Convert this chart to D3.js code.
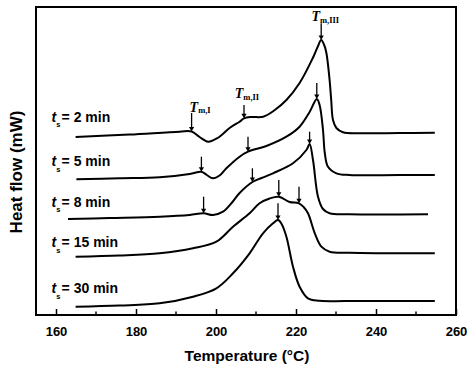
<!DOCTYPE html>
<html><head><meta charset="utf-8">
<script src="https://cdn.jsdelivr.net/npm/d3@7"></script>
<style>
html,body{margin:0;padding:0;background:#fff;}
</style></head>
<body><svg id="c" width="474" height="371" style="font-family:Arial,'Liberation Sans',sans-serif"></svg>
<script>
// ---- data ----
const seriesNames = ["2 min","5 min","8 min","15 min","30 min"];
const s2min = [[164.9,17.8],[178.4,18.05],[190.9,18.33],[193.9,18.35],[195.9,17.8],[198.0,17.33],[200.4,17.7],[203.4,18.7],[205.9,19.33],[207.0,19.67],[208.9,19.8],[211.8,19.83],[214.7,20.5],[217.6,21.5],[220.9,23.2],[224.2,25.7],[225.4,26.8],[226.3,27.5],[227.05,27.0],[227.6,26.2],[228.4,23.5],[228.8,21.5],[229.25,19.5],[230.1,18.7],[231.75,18.27],[235.9,18.17],[245.9,18.2],[254.7,18.23]];
const s5min = [[165.1,13.57],[175.9,13.67],[185.9,13.77],[193.4,14.1],[196.35,14.33],[197.7,14.0],[199.25,13.67],[200.9,13.95],[202.6,14.67],[205.9,15.83],[208.0,16.33],[212.6,16.9],[217.6,17.83],[220.9,18.83],[223.4,20.3],[225.2,21.6],[225.9,21.0],[226.75,18.5],[227.2,16.2],[228.0,14.83],[230.1,14.17],[233.4,14.0],[245.9,14.0],[254.7,14.0]];
const s8min = [[163.0,9.6],[173.4,9.7],[185.9,9.83],[193.4,10.0],[196.9,10.17],[199.25,10.0],[201.75,10.33],[203.9,11.2],[205.9,12.2],[209.1,13.3],[211.4,13.7],[214.25,14.17],[219.25,15.17],[222.6,16.5],[223.4,17.1],[224.25,15.5],[225.5,11.83],[226.75,10.6],[228.4,10.17],[233.4,10.07],[253.0,10.07]];
const s15min = [[164.9,5.83],[175.9,5.95],[185.9,6.17],[194.25,6.67],[200.1,7.33],[204.25,8.83],[208.4,10.17],[210.9,11.17],[213.4,11.65],[215.7,11.83],[218.4,11.3],[220.75,11.17],[221.9,10.8],[223.0,10.17],[224.7,8.17],[226.35,6.83],[228.4,6.33],[233.4,6.22],[254.7,6.17]];
const s30min = [[164.9,0.83],[175.9,0.95],[185.9,1.17],[194.25,1.83],[200.1,2.67],[204.25,4.17],[208.4,6.17],[211.75,8.17],[214.25,9.17],[215.5,9.5],[216.4,9.1],[217.6,7.83],[219.25,4.83],[220.9,2.83],[223.0,1.67],[225.9,1.43],[235.9,1.4],[254.7,1.4]];
const seriesData = [s2min,s5min,s8min,s15min,s30min];
const labelValues = [19.33,14.9,10.83,6.8,2.2];   // heat-flow level of each t_s label
const labelTemp = 158.9;
// arrows: [temperature, tip value, tail value]
const arrows = [[193.9,18.35,20.2],[207.0,19.67,21.0],[226.3,27.5,29.17],
  [196.35,14.33,15.83],[208.0,16.33,17.83],[225.2,21.6,23.2],
  [196.9,10.17,11.83],[209.1,13.3,14.67],[223.4,17.1,18.33],
  [215.7,11.83,13.5],[220.75,11.17,12.83],
  [215.5,9.5,11.17]];
// peak labels: [temperature, value, subscript]
const peakLabels = [[193.4,20.33,"m,I"],[204.7,21.67,"m,II"],[223.85,29.4,"m,III"]];
const xTicks = [160,180,200,220,240,260];
const xMinor = [170,190,210,230,250];

// ---- drawing ----
const svg = d3.select("#c");
const x = d3.scaleLinear().domain([155,260]).range([36,456]);
const y = d3.scaleLinear().domain([0,30.8]).range([315,7]);

const line = d3.line().x(d=>x(d[0])).y(d=>y(d[1])).curve(d3.curveCatmullRom.alpha(0.5));
svg.append("g").selectAll("path").data(seriesData).join("path")
  .attr("d",line).attr("fill","none").attr("stroke","#000").attr("stroke-width",2)
  .attr("stroke-linejoin","round");

// frame
svg.append("rect").attr("x",x(155)).attr("y",y(30.8)).attr("width",x(260)-x(155)).attr("height",y(0)-y(30.8))
  .attr("fill","none").attr("stroke","#000").attr("stroke-width",2);

// bottom axis, inward ticks
const xa = svg.append("g").attr("transform",`translate(0,${y(0)})`)
  .call(d3.axisBottom(x).tickValues(xTicks).tickSize(-6).tickPadding(12).tickFormat(d3.format("d")));
xa.attr("font-family",null).attr("font-size",null);
xa.select(".domain").remove();
xa.selectAll("line").attr("stroke","#000").attr("stroke-width",1.5);
xa.selectAll("text").style("font-size","13px").style("font-weight","bold").attr("fill","#000")
  .style("font-family","Arial,'Liberation Sans',sans-serif");
svg.append("g").selectAll("line").data(xMinor).join("line")
  .attr("x1",d=>x(d)).attr("x2",d=>x(d)).attr("y1",y(0)).attr("y2",y(0)-3.5)
  .attr("stroke","#000").attr("stroke-width",1.5);

// axis titles
svg.append("text").attr("x",247).attr("y",361).attr("text-anchor","middle")
  .style("font-size","15.5px").style("font-weight","bold").text("Temperature (°C)");
svg.append("text").attr("transform","translate(21.5,172) rotate(-90)").attr("text-anchor","middle")
  .style("font-size","17px").style("font-weight","bold").text("Heat flow (mW)");

// t_s labels
const lg = svg.append("g").selectAll("g").data(seriesNames).join("g")
  .attr("transform",(d,i)=>`translate(${x(labelTemp)},${y(labelValues[i])})`);
lg.append("text").attr("x",0).attr("y",0).style("font-size","14px").style("font-weight","bold")
  .style("font-style","italic").text("t");
lg.append("text").attr("x",4.6).attr("y",5.5).style("font-size","7.5px").style("font-weight","bold").text("s");
lg.append("text").attr("x",10).attr("y",0).style("font-size","14px").style("font-weight","bold").text(d=>"= "+d);

// arrows
const ag = svg.append("g").selectAll("g").data(arrows).join("g");
ag.append("line").attr("x1",d=>x(d[0])).attr("x2",d=>x(d[0])).attr("y1",d=>y(d[2])).attr("y2",d=>y(d[1])-3)
  .attr("stroke","#000").attr("stroke-width",1.3);
ag.append("path").attr("d",d=>{const X=x(d[0]),Y=y(d[1]);return `M${X-2.6},${Y-4.5}L${X+2.6},${Y-4.5}L${X},${Y}Z`;})
  .attr("fill","#000");

// peak labels
const pl = svg.append("g").selectAll("text").data(peakLabels).join("text")
  .attr("x",d=>x(d[0])).attr("y",d=>y(d[1]))
  .style("font-family","'Liberation Serif','Times New Roman',serif").style("font-weight","bold");
pl.append("tspan").style("font-style","italic").style("font-size","14px").text("T");
pl.append("tspan").style("font-size","8.5px").attr("dy",1.5).text(d=>d[2]);
</script></body></html>
